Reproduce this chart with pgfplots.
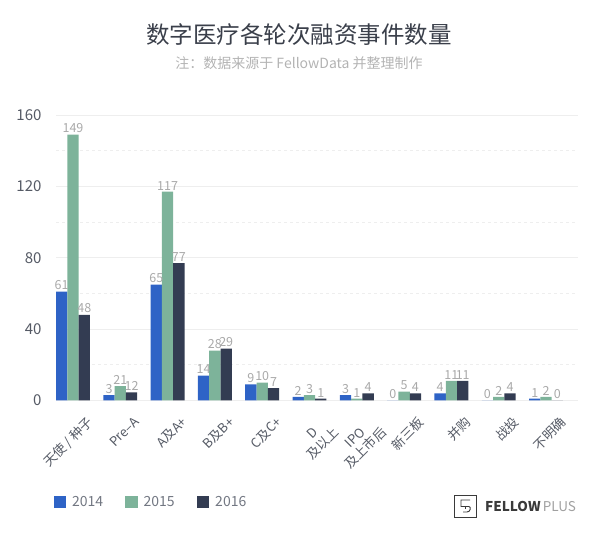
\documentclass[border=0pt]{standalone}
\usepackage{pgfplots}
\pgfplotsset{compat=1.18}
\usepackage{fontspec}
\setmainfont{Noto Sans CJK SC}
\definecolor{cA}{HTML}{2E63C6}
\definecolor{cB}{HTML}{7DB39A}
\definecolor{cC}{HTML}{333C52}
\definecolor{titlec}{HTML}{3A3F4A}
\definecolor{subc}{HTML}{B3B3B3}
\definecolor{gridc}{HTML}{EEEEEE}
\definecolor{tickc}{HTML}{555A65}
\definecolor{valc}{HTML}{A9A9A9}
\definecolor{legc}{HTML}{727782}
\definecolor{logoc}{HTML}{3A3A3A}
\definecolor{plusc}{HTML}{A0A0A0}
\pgfplotsset{sq legend/.style={legend image code/.code={\fill[##1,draw=none] (0pt,-6pt) rectangle (12.5pt,6pt);}}}
\begin{document}
\begin{tikzpicture}[x=1pt,y=1pt]
\path[use as bounding box] (0,0) rectangle (600,545);
\node[font=\fontsize{23.5}{28}\selectfont, text=titlec] at (299,510) {数字医疗各轮次融资事件数量};
\node[font=\fontsize{14}{17}\selectfont, text=subc] at (299,481.5) {注：数据来源于 FellowData 并整理制作};
\begin{axis}[
  at={(56pt,144.5pt)}, anchor=south west, scale only axis,
  width=522pt, height=285.5pt,
  xmin=-0.359, xmax=10.676, ymin=0, ymax=160,
  xtick={0,...,10},
  xticklabels={天使 / 种子, Pre–A, A及A+, B及B+, C及C+, {D\\及以上}, {IPO\\及上市后}, 新三板, 并购, 战投, 不明确},
  xticklabel style={xshift=13pt, yshift=-6pt, rotate=45, anchor=north east, align=center, font=\fontsize{13}{15}\selectfont, text=tickc},
  ytick={0,40,...,160}, minor ytick={20,60,100,140},
  yticklabel style={xshift=-11pt, font=\fontsize{15}{18}\selectfont, text=tickc},
  /pgf/number format/assume math mode=true,
  ymajorgrids, yminorgrids,
  major grid style={draw=gridc, line width=0.8pt},
  minor grid style={draw=gridc, line width=0.8pt, dash pattern=on 3pt off 3pt},
  axis line style={draw=none}, tick style={draw=none},
  ybar, bar width=11.3pt,
  point meta=explicit,
  nodes near coords style={font=\fontsize{12.5}{15}\selectfont, text=valc, inner sep=1.5pt},
  clip=false,
  legend columns=3,
  legend style={at={(-0.005,-0.357)}, anchor=west, draw=none, fill=none, inner sep=0pt,
    nodes={inner sep=0pt},
    font=\fontsize{14}{17}\selectfont, text=legc,
    /tikz/every odd column/.append style={column sep=6pt},
    /tikz/every even column/.append style={column sep=22pt}},
]
\addplot[fill=cA, draw=none, sq legend, bar shift=-11.3pt] coordinates {
 (0,61) (1,3) (2,65) (3,14) (4,9) (5,2) (6,3) (7,0) (8,4) (9,0) (10,1)};
\addplot[fill=cB, draw=none, sq legend, bar shift=0pt] coordinates {
 (0,149) (1,8) (2,117) (3,28) (4,10) (5,3) (6,1) (7,5) (8,11) (9,2) (10,2)};
\addplot[fill=cC, draw=none, sq legend, bar shift=11.3pt] coordinates {
 (0,48) (1,4.5) (2,77) (3,29) (4,7) (5,1) (6,4) (7,4) (8,11) (9,4) (10,0)};
\legend{2014,2015,2016}
% value labels drawn on top of all bars
\addplot[fill=none, draw=none, bar shift=-11.3pt, nodes near coords, forget plot] coordinates {
 (0,61)[61] (1,3)[3] (2,65)[65] (3,14)[14] (4,9)[9] (5,2)[2] (6,3)[3] (7,0)[0] (8,4)[4] (9,0)[0] (10,1)[1]};
\addplot[fill=none, draw=none, bar shift=0pt, nodes near coords, forget plot] coordinates {
 (0,149)[149] (1,8)[21] (2,117)[117] (3,28)[28] (4,10)[10] (5,3)[3] (6,1)[1] (7,5)[5] (8,11)[11] (9,2)[2] (10,2)[2]};
\addplot[fill=none, draw=none, bar shift=11.3pt, nodes near coords, forget plot] coordinates {
 (0,48)[48] (1,4.5)[12] (2,77)[77] (3,29)[29] (4,7)[7] (5,1)[1] (6,4)[4] (7,4)[4] (8,11)[11] (9,4)[4] (10,0)[0]};
\end{axis}
% logo
\draw[draw=logoc, line width=0.9pt] (454.5,28) rectangle (476.5,50);
\draw[draw=logoc, line width=0.9pt] (470,45) -- (461,45) -- (461,38.5) -- (469,38.5) .. controls (471,38.5) and (471,33) .. (467,33) -- (463,33);
\draw[draw=logoc, line width=0.9pt] (465,38.5) -- (465,35.5);
\node[anchor=west, font=\fontsize{13.5}{16}\selectfont, inner sep=0pt] at (485,39) {\textcolor{logoc}{\textbf{FELLOW}}\,\textcolor{plusc}{PLUS}};
\end{tikzpicture}
\end{document}
